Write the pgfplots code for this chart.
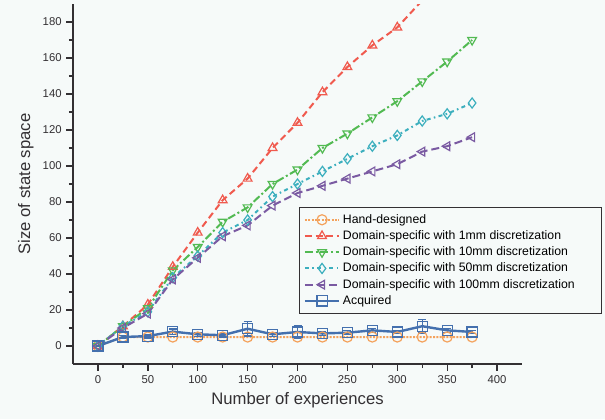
\documentclass[border=0pt]{standalone}
\usepackage{pgfplots}
\pgfplotsset{compat=1.18}
\usepackage{fontspec}
\setmainfont{Liberation Sans}
\usetikzlibrary{backgrounds}

\definecolor{bgc}{HTML}{F6FAF9}
\definecolor{axc}{HTML}{333033}
\definecolor{handc}{HTML}{F4A25C}
\definecolor{onec}{HTML}{F05A4E}
\definecolor{tenc}{HTML}{52BA52}
\definecolor{fiftyc}{HTML}{3CAFBE}
\definecolor{hundc}{HTML}{7A5AA2}
\definecolor{acqc}{HTML}{4470AE}

\begin{document}
\begin{tikzpicture}[show background rectangle, inner frame sep=0pt,
  background rectangle/.style={fill=bgc}]
\begin{axis}[
  scale only axis,
  width=336.75pt, height=270pt,
  xmin=-25, xmax=425, ymin=-10, ymax=190,
  axis lines=left,
  axis line style={-, line width=1.2pt, color=axc},
  tick style={line width=1pt, color=axc},
  tick align=outside,
  major tick length=5pt, minor tick length=3pt,
  xtick={0,50,...,400}, ytick={0,20,...,180},
  minor x tick num=1, minor y tick num=1,
  /pgf/number format/assume math mode=true,
  ticklabel style={font=\fontsize{8.5}{10}\selectfont, color=axc},
  label style={font=\fontsize{12.5}{14}\selectfont, color=axc},
  xlabel={Number of experiences},
  ylabel={Size of state space},
  legend cell align=left,
  legend style={at={(axis cs:202,77)}, anchor=north west,
    draw=axc, fill=bgc,
    font=\fontsize{9.2}{11}\selectfont,
    row sep=0pt, inner sep=3pt},
  legend image code/.code={\draw[mark repeat=2,mark phase=2] plot coordinates {(0cm,0cm)(0.45cm,0cm)(0.9cm,0cm)};},
  every axis plot/.append style={line width=1.5pt, mark size=3.8pt,
    mark options={solid, fill=bgc, line width=0.9pt}},
]
\addplot[color=handc, densely dotted, mark=o] coordinates {
  (0,0)(25,5)(50,5)(75,5)(100,5)(125,5)(150,5)(175,5)(200,5)(225,5)(250,5)(275,5)(300,5)(325,5)(350,5)(375,5)
};
\addlegendentry{Hand-designed}

\addplot[color=onec, dash pattern=on 5pt off 3pt, mark=triangle] coordinates {
  (0,0)(25,11)(50,23)(75,44)(100,63)(125,81)(150,93)(175,110)(200,124)(225,141)(250,155)(275,167)(300,177)(325,192)(350,206)
};
\addlegendentry{Domain-specific with 1mm discretization}

\addplot[color=tenc, dash pattern=on 6pt off 2pt on 1.5pt off 2pt, mark=triangle,
  mark options={solid, fill=bgc, line width=0.9pt, rotate=180}] coordinates {
  (0,0)(25,11)(50,21)(75,42)(100,55)(125,69)(150,77)(175,90)(200,98)(225,110)(250,118)(275,127)(300,136)(325,147)(350,158)(375,170)
};
\addlegendentry{Domain-specific with 10mm discretization}

\addplot[color=fiftyc, dash pattern=on 3pt off 2.5pt on 1.2pt off 2.5pt, mark=diamond] coordinates {
  (0,0)(25,11)(50,19)(75,38)(100,50)(125,63)(150,70)(175,83)(200,90)(225,97)(250,104)(275,111)(300,117)(325,125)(350,129)(375,135)
};
\addlegendentry{Domain-specific with 50mm discretization}

\addplot[color=hundc, dash pattern=on 6pt off 3pt, mark=triangle,
  mark options={solid, fill=bgc, line width=0.9pt, rotate=90}] coordinates {
  (0,0)(25,10)(50,18)(75,37)(100,49)(125,61)(150,67)(175,78)(200,85)(225,89)(250,93)(275,97)(300,101)(325,108)(350,111)(375,116)
};
\addlegendentry{Domain-specific with 100mm discretization\rule{15pt}{0pt}}

\addplot[color=acqc, solid, line width=1.8pt, mark=square,
  error bars/.cd, y dir=both, y explicit,
  error bar style={line width=0.9pt, solid}, error mark options={rotate=90, mark size=3pt, line width=0.9pt}]
  coordinates {
  (0,0) +- (0,0)
  (25,5) +- (0,1)
  (50,5.5) +- (0,1)
  (75,8) +- (0,1.5)
  (100,6.5) +- (0,1)
  (125,6) +- (0,1)
  (150,9.6) +- (0,4)
  (175,6.5) +- (0,1)
  (200,7.8) +- (0,3.8)
  (225,7) +- (0,1)
  (250,7.4) +- (0,1)
  (275,8.7) +- (0,1)
  (300,7.8) +- (0,1)
  (325,11) +- (0,3.8)
  (350,8.7) +- (0,1)
  (375,7.8) +- (0,1)
};
\addlegendentry{Acquired}
\end{axis}
\path (current axis.south west) ++(-54.75pt,-41.25pt) rectangle ++(453.75pt,314.25pt);
\end{tikzpicture}
\end{document}
